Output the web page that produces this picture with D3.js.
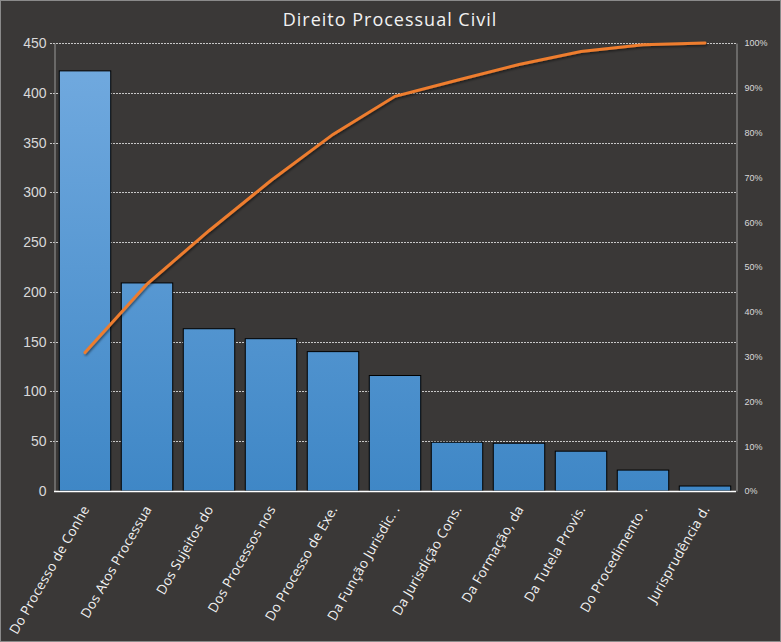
<!DOCTYPE html>
<html>
<head>
<meta charset="utf-8">
<script src="https://cdn.jsdelivr.net/npm/d3@7"></script>
<style>
  body { margin: 0; background: #3a3837; }
  svg { display: block; font-family: "Open Sans", "Noto Sans", sans-serif; }
</style>
</head>
<body>
<svg width="781" height="642"></svg>
<script>
// chart data
const categories = ['Do Processo de Conhe', 'Dos Atos Processua', 'Dos Sujeitos do', 'Dos Processos nos',
  'Do Processo de Exe.', 'Da Função Jurisdic. .', 'Da Jurisdição Cons.', 'Da Formação, da',
  'Da Tutela Provis.', 'Do Procedimento   .', 'Jurisprudência d.'];
const counts = [422, 209, 163, 153, 140, 116, 49, 48, 40, 21, 5];
const cumulativePct = [30.9, 46.2, 58.1, 69.3, 79.6, 88.1, 91.7, 95.2, 98.1, 99.6, 100];
const leftTicks = [0, 50, 100, 150, 200, 250, 300, 350, 400, 450];
const rightTicks = [0, 10, 20, 30, 40, 50, 60, 70, 80, 90, 100];

const svg = d3.select('svg');
const W = 781, H = 642;
const m = { top: 43, right: 45, bottom: 151, left: 54 };

svg.append('rect')
  .attr('x', 0.5).attr('y', 0.5)
  .attr('width', W - 1).attr('height', H - 1)
  .attr('fill', '#3a3837')
  .attr('stroke', '#8a8a8a');

const x = d3.scaleBand()
  .domain(categories)
  .range([m.left, W - m.right])
  .paddingInner(0.17)
  .paddingOuter(0.085);

const y = d3.scaleLinear().domain([0, 450]).range([H - m.bottom, m.top]);
const yPct = d3.scaleLinear().domain([0, 100]).range([H - m.bottom, m.top]);

// one gradient over the whole plot height, so short bars stay dark
const defs = svg.append('defs');
const grad = defs.append('linearGradient')
  .attr('id', 'barGrad')
  .attr('gradientUnits', 'userSpaceOnUse')
  .attr('x1', 0).attr('y1', y(450)).attr('x2', 0).attr('y2', y(0));
grad.append('stop').attr('offset', '0%').attr('stop-color', '#73abe0');
grad.append('stop').attr('offset', '100%').attr('stop-color', '#3f87c6');

const shadow = defs.append('filter').attr('id', 'shadow')
  .attr('x', '-10%').attr('y', '-10%').attr('width', '120%').attr('height', '120%');
shadow.append('feDropShadow').attr('dx', 1).attr('dy', 1.5).attr('stdDeviation', 1)
  .attr('flood-color', '#000').attr('flood-opacity', 0.5);

// title
svg.append('text')
  .attr('x', 390).attr('y', 26)
  .attr('text-anchor', 'middle')
  .attr('fill', '#f2f2f2')
  .attr('font-size', 18)
  .attr('letter-spacing', 1)
  .text('Direito Processual Civil');

// gridlines
svg.append('g')
  .selectAll('line')
  .data(leftTicks.filter((d) => d > 0))
  .enter()
  .append('line')
  .attr('x1', m.left - 4).attr('x2', W - m.right)
  .attr('y1', (d) => Math.round(y(d)) + 0.5)
  .attr('y2', (d) => Math.round(y(d)) + 0.5)
  .attr('stroke', '#c8c8c8')
  .attr('stroke-dasharray', '2,1');

// left axis
const yAxis = svg.append('g')
  .attr('transform', `translate(${m.left + 0.5},0)`)
  .call(d3.axisLeft(y).tickValues(leftTicks).tickSize(0).tickPadding(8));
yAxis.select('.domain').attr('stroke', '#9a9a9a');
yAxis.selectAll('text').attr('fill', '#d9d9d9').attr('font-size', 14);

// right axis
const rAxis = svg.append('g')
  .attr('transform', `translate(${W - m.right + 0.5},0)`)
  .call(d3.axisRight(yPct).tickValues(rightTicks).tickSize(0).tickPadding(8)
    .tickFormat((d) => d + '%'));
rAxis.select('.domain').attr('stroke', '#9a9a9a');
rAxis.selectAll('text').attr('fill', '#d9d9d9').attr('font-size', 9);

// bars
svg.append('g')
  .selectAll('rect')
  .data(counts)
  .enter()
  .append('rect')
  .attr('x', (d, i) => x(categories[i]))
  .attr('y', (d) => y(d))
  .attr('width', x.bandwidth())
  .attr('height', (d) => y(0) - y(d))
  .attr('fill', 'url(#barGrad)')
  .attr('stroke', '#000')
  .attr('stroke-width', 1);

// bottom axis line
svg.append('line')
  .attr('x1', m.left).attr('x2', W - m.right)
  .attr('y1', y(0) + 0.5).attr('y2', y(0) + 0.5)
  .attr('stroke', '#ffffff')
  .attr('stroke-width', 1.5);

// category labels
svg.append('g')
  .selectAll('text')
  .data(categories)
  .enter()
  .append('text')
  .attr('transform', (d) => `translate(${x(d) + x.bandwidth() / 2 + 5},${y(0) + 18}) rotate(-60)`)
  .attr('text-anchor', 'end')
  .attr('fill', '#f2f2f2')
  .attr('font-size', 13.5)
  .attr('letter-spacing', 0.2)
  .text((d) => d);

// cumulative line
const line = d3.line()
  .x((d, i) => x(categories[i]) + x.bandwidth() / 2)
  .y((d) => yPct(d));

svg.append('path')
  .datum(cumulativePct)
  .attr('d', line)
  .attr('fill', 'none')
  .attr('stroke', '#ee7d2f')
  .attr('stroke-width', 3)
  .attr('stroke-linecap', 'round')
  .attr('filter', 'url(#shadow)');
</script>
</body>
</html>
